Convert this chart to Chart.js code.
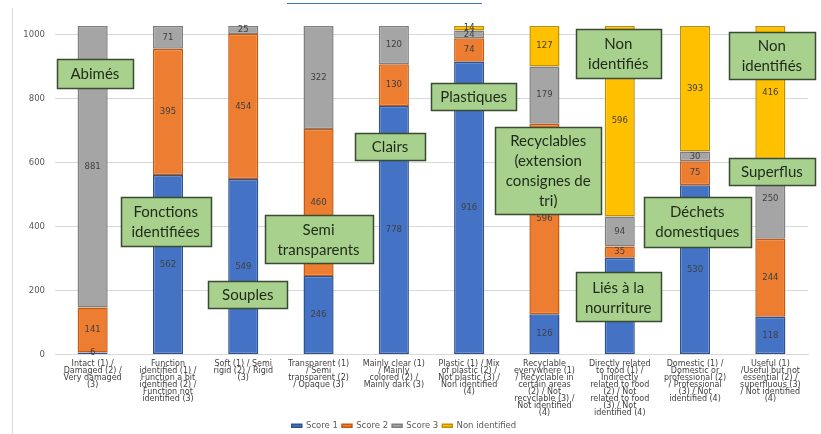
<!DOCTYPE html>
<html>
<head>
<meta charset="utf-8">
<script src="https://cdn.jsdelivr.net/npm/chart.js@4/dist/chart.umd.min.js"></script>
<style>
  html, body { margin: 0; padding: 0; background: #fff; }
  #wrap { width: 821px; height: 434px; position: relative; }
</style>
</head>
<body>
<div id="wrap"><canvas id="chart" width="821" height="434"></canvas></div>
<script>
const categories = [
    ['Intact (1) /', 'Damaged (2) /', 'Very damaged', '(3)'],
    ['Function', 'identified (1) /', 'Function a bit', 'identified (2) /', 'Function not', 'identified (3)'],
    ['Soft (1) / Semi', 'rigid (2) / Rigid', '(3)'],
    ['Transparent (1)', '/ Semi', 'transparent (2)', '/ Opaque (3)'],
    ['Mainly clear (1)', '/ Mainly', 'colored (2) /', 'Mainly dark (3)'],
    ['Plastic (1) / Mix', 'of plastic (2) /', 'Not plastic (3) /', 'Non identified', '(4)'],
    ['Recyclable', 'everywhere (1)', '/ Recyclable in', 'certain areas', '(2) / Not', 'recyclable (3) /', 'Not identified', '(4)'],
    ['Directly related', 'to food (1) /', 'Indirectly', 'related to food', '(2) / Not', 'related to food', '(3) / Not', 'identified (4)'],
    ['Domestic (1) /', 'Domestic or', 'professional (2)', '/ Professional', '(3) / Not', 'identified (4)'],
    ['Useful (1)', '/Useful but not', 'essential (2) /', 'superfluous (3)', '/ Not identified', '(4)']
];
const score1 = [6, 562, 549, 246, 778, 916, 126, 303, 530, 118];
const score2 = [141, 395, 454, 460, 130, 74, 596, 35, 75, 244];
const score3 = [881, 71, 25, 322, 120, 24, 179, 94, 30, 250];
const nonIdentified = [0, 0, 0, 0, 0, 14, 127, 596, 393, 416];
const seriesNames = ['Score 1', 'Score 2', 'Score 3', 'Non identified'];
const yTicks = [0, 200, 400, 600, 800, 1000];

// callouts: text lines, category position, value position, box size
const callouts = [
    { lines: ['Abimés'], cat: 0.03, val: 880, w: 76, h: 29 },
    { lines: ['Fonctions', 'identifiées'], cat: 0.97, val: 417, w: 90, h: 49 },
    { lines: ['Souples'], cat: 2.06, val: 189, w: 79, h: 27 },
    { lines: ['Semi', 'transparents'], cat: 3.0, val: 362, w: 108, h: 48 },
    { lines: ['Clairs'], cat: 3.95, val: 652, w: 70, h: 27 },
    { lines: ['Plastiques'], cat: 5.06, val: 808, w: 85, h: 27 },
    { lines: ['Recyclables', '(extension', 'consignes de', 'tri)'], cat: 6.05, val: 577, w: 106, h: 87 },
    { lines: ['Non', 'identifiés'], cat: 6.98, val: 942, w: 85, h: 49 },
    { lines: ['Liés à la', 'nourriture'], cat: 6.98, val: 180, w: 85, h: 49 },
    { lines: ['Déchets', 'domestiques'], cat: 8.03, val: 416, w: 107, h: 50 },
    { lines: ['Non', 'identifiés'], cat: 9.02, val: 936, w: 86, h: 47 },
    { lines: ['Superflus'], cat: 9.02, val: 573, w: 86, h: 27 }
];

const totals = score1.map((v, i) => v + score2[i] + score3[i] + nonIdentified[i]);
const yMax = Math.max(...totals);

const fills = ['#4472C4', '#ED7D31', '#A5A5A5', '#FFC000'];
const edges = ['#2F528F', '#C55A11', '#7F7F7F', '#BF9000'];

const valueLabels = {
    id: 'valueLabels',
    afterDatasetsDraw(chart) {
        const ctx = chart.ctx;
        ctx.save();
        ctx.font = '8.5px "DejaVu Sans"';
        ctx.fillStyle = '#404040';
        ctx.textAlign = 'center';
        ctx.textBaseline = 'middle';
        chart.data.datasets.forEach((ds, di) => {
            const meta = chart.getDatasetMeta(di);
            meta.data.forEach((bar, i) => {
                const v = ds.data[i];
                if (!v) return;
                ctx.fillText(String(v), bar.x, (bar.y + bar.base) / 2);
            });
        });
        ctx.restore();
    }
};

const calloutBoxes = {
    id: 'calloutBoxes',
    afterDraw(chart) {
        const ctx = chart.ctx;
        const xs = chart.scales.x, ys = chart.scales.y;
        const step = xs.getPixelForValue(1) - xs.getPixelForValue(0);
        ctx.save();
        // frame line on the left and title underline
        ctx.strokeStyle = '#d9d9d9';
        ctx.lineWidth = 1;
        ctx.beginPath();
        ctx.moveTo(12.5, 8);
        ctx.lineTo(12.5, 434);
        ctx.stroke();
        ctx.strokeStyle = '#4472C4';
        ctx.beginPath();
        ctx.moveTo(287, 3.5);
        ctx.lineTo(482, 3.5);
        ctx.stroke();

        ctx.font = '15px Lato';
        ctx.textAlign = 'center';
        ctx.textBaseline = 'middle';
        for (const c of callouts) {
            const cx = xs.getPixelForValue(0) + c.cat * step;
            const cy = ys.getPixelForValue(c.val);
            const x0 = Math.round(cx - c.w / 2) + 0.5;
            const y0 = Math.round(cy - c.h / 2) + 0.5;
            ctx.fillStyle = '#A9D18E';
            ctx.fillRect(x0, y0, c.w, c.h);
            ctx.strokeStyle = '#3A4A33';
            ctx.lineWidth = 1.5;
            ctx.strokeRect(x0, y0, c.w, c.h);
            ctx.fillStyle = '#1F2A1A';
            const lh = 20;
            const start = cy - (c.lines.length - 1) * lh / 2;
            c.lines.forEach((t, k) => ctx.fillText(t, cx, start + k * lh + 1));
        }
        ctx.restore();
    }
};

const ctx = document.getElementById('chart').getContext('2d');
const chart = new Chart(ctx, {
    type: 'bar',
    data: {
        labels: categories,
        datasets: [score1, score2, score3, nonIdentified].map((d, i) => ({
            label: seriesNames[i],
            data: d,
            backgroundColor: fills[i],
            borderColor: edges[i],
            borderWidth: 1.5,
            borderSkipped: false,
            categoryPercentage: 1,
            barPercentage: 0.4
        }))
    },
    options: {
        responsive: false,
        animation: false,
        layout: { padding: { top: 26, right: 13, left: 0, bottom: -6 } },
        scales: {
            x: {
                stacked: true,
                grid: { display: false, drawTicks: false },
                border: { color: '#d9d9d9' },
                ticks: {
                    maxRotation: 0,
                    autoSkip: false,
                    padding: 6,
                    color: '#404040',
                    font: { family: 'DejaVu Sans', size: 8, lineHeight: 0.88 }
                },
                afterFit(scale) { scale.height = 63; }
            },
            y: {
                stacked: true,
                min: 0,
                max: yMax,
                grid: { color: '#d9d9d9', drawTicks: false },
                border: { display: false },
                ticks: {
                    stepSize: 200,
                    padding: 10,
                    color: '#595959',
                    font: { family: 'DejaVu Sans', size: 8.5 },
                    callback: v => String(v)
                },
                afterBuildTicks(scale) {
                    scale.ticks = yTicks.map(v => ({ value: v }));
                },
                afterFit(scale) { scale.width = 55; }
            }
        },
        plugins: {
            legend: {
                position: 'bottom',
                labels: {
                    boxWidth: 10,
                    boxHeight: 3,
                    padding: 4,
                    color: '#595959',
                    font: { family: 'DejaVu Sans', size: 8.5 }
                }
            },
            tooltip: { enabled: false }
        }
    },
    plugins: [valueLabels, calloutBoxes]
});
</script>
</body>
</html>
